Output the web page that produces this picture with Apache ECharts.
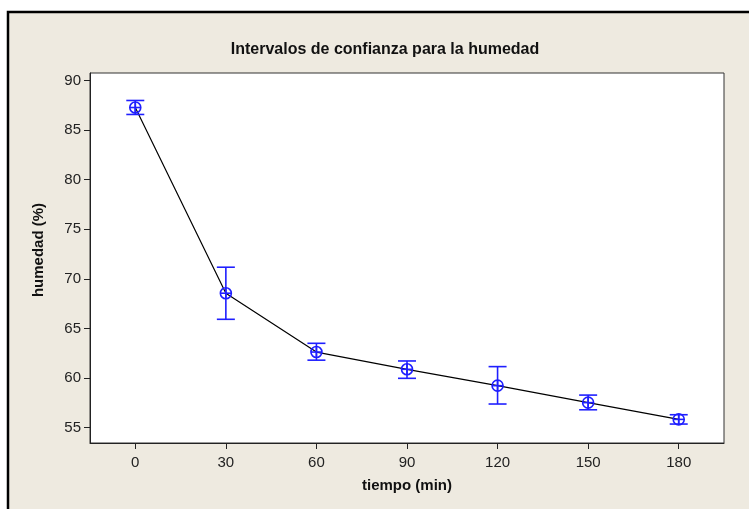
<!DOCTYPE html>
<html>
<head>
<meta charset="utf-8">
<script src="https://cdn.jsdelivr.net/npm/echarts@6/dist/echarts.min.js"></script>
<style>
  html, body { margin: 0; padding: 0; background: #ffffff; }
  #chart { width: 749px; height: 509px; }
</style>
</head>
<body>
<div id="chart"></div>
<script>
// Sampling times (min) and the humidity means with their confidence limits (%)
const tiempos = [0, 30, 60, 90, 120, 150, 180];
const medias = [87.27, 68.55, 62.62, 60.88, 59.23, 57.52, 55.83];
const limInf = [86.57, 65.92, 61.80, 59.97, 57.38, 56.80, 55.36];
const limSup = [87.98, 71.17, 63.50, 61.72, 61.15, 58.28, 56.30];
const xTicks = [0, 30, 60, 90, 120, 150, 180];
const yTicks = [55, 60, 65, 70, 75, 80, 85, 90];

const FONT = '"Liberation Sans", Arial, sans-serif';
const BLUE = '#1f1fff';

const lineData = tiempos.map((t, i) => [t, medias[i]]);
const ciData = tiempos.map((t, i) => [t, limInf[i], limSup[i], medias[i]]);

function renderInterval(params, api) {
  const t = api.value(0);
  const lo = api.coord([t, api.value(1)]);
  const hi = api.coord([t, api.value(2)]);
  const c = api.coord([t, api.value(3)]);
  const cap = 9, r = 5.5;
  const stroke = { stroke: BLUE, lineWidth: 1.6, fill: null };
  return {
    type: 'group',
    children: [
      { type: 'line', shape: { x1: lo[0], y1: lo[1], x2: hi[0], y2: hi[1] }, style: stroke },
      { type: 'line', shape: { x1: lo[0] - cap, y1: lo[1], x2: lo[0] + cap, y2: lo[1] }, style: stroke },
      { type: 'line', shape: { x1: hi[0] - cap, y1: hi[1], x2: hi[0] + cap, y2: hi[1] }, style: stroke },
      { type: 'circle', shape: { cx: c[0], cy: c[1], r: r }, style: { stroke: BLUE, lineWidth: 1.6, fill: 'rgba(255,255,255,0)' } },
      { type: 'line', shape: { x1: c[0] - r, y1: c[1], x2: c[0] + r, y2: c[1] }, style: stroke },
      { type: 'line', shape: { x1: c[0], y1: c[1] - r, x2: c[0], y2: c[1] + r }, style: stroke }
    ]
  };
}

const chart = echarts.init(document.getElementById('chart'), null, { renderer: 'canvas' });

chart.setOption({
  backgroundColor: '#ffffff',
  animation: false,
  textStyle: { fontFamily: FONT },
  graphic: [
    {
      type: 'rect', z: -10, silent: true,
      shape: { x: 8, y: 12, width: 900, height: 700 },
      style: { fill: '#eeeae0', stroke: '#000000', lineWidth: 2.5 }
    },
    {
      type: 'text', silent: true,
      x: 385, y: 50,
      style: {
        text: 'Intervalos de confianza para la humedad',
        font: 'bold 16px ' + FONT, fill: '#111111',
        align: 'center', verticalAlign: 'middle'
      }
    }
  ],
  grid: {
    left: 90, top: 73, right: 25, bottom: 66,
    show: true, backgroundColor: '#ffffff', borderColor: '#333333', borderWidth: 1
  },
  xAxis: {
    type: 'value', min: -15, max: 195,
    name: 'tiempo (min)', nameLocation: 'middle', nameGap: 35,
    nameTextStyle: { fontFamily: FONT, fontWeight: 'bold', fontSize: 15, color: '#111' },
    axisLine: { show: true, onZero: false, lineStyle: { color: '#222', width: 1 } },
    axisTick: { show: true, length: 6, customValues: xTicks, lineStyle: { color: '#222' } },
    axisLabel: { customValues: xTicks, fontSize: 15, color: '#222', margin: 12, fontFamily: FONT },
    splitLine: { show: false }
  },
  yAxis: {
    type: 'value', min: 53.45, max: 90.75,
    name: 'humedad (%)', nameLocation: 'middle', nameGap: 44, nameRotate: 90,
    nameTextStyle: { fontFamily: FONT, fontWeight: 'bold', fontSize: 15, color: '#111', padding: [0, 0, 0, 16] },
    axisLine: { show: true, onZero: false, lineStyle: { color: '#222', width: 1 } },
    axisTick: { show: true, length: 6, customValues: yTicks, lineStyle: { color: '#222' } },
    axisLabel: { customValues: yTicks, fontSize: 15, color: '#222', margin: 9, fontFamily: FONT },
    splitLine: { show: false }
  },
  series: [
    {
      type: 'line', data: lineData, showSymbol: false, symbol: 'none',
      lineStyle: { color: '#000000', width: 1.2 }, z: 2
    },
    {
      type: 'custom', data: ciData, renderItem: renderInterval, z: 3,
      encode: { x: 0, y: [1, 2, 3] }
    }
  ]
});
</script>
</body>
</html>
